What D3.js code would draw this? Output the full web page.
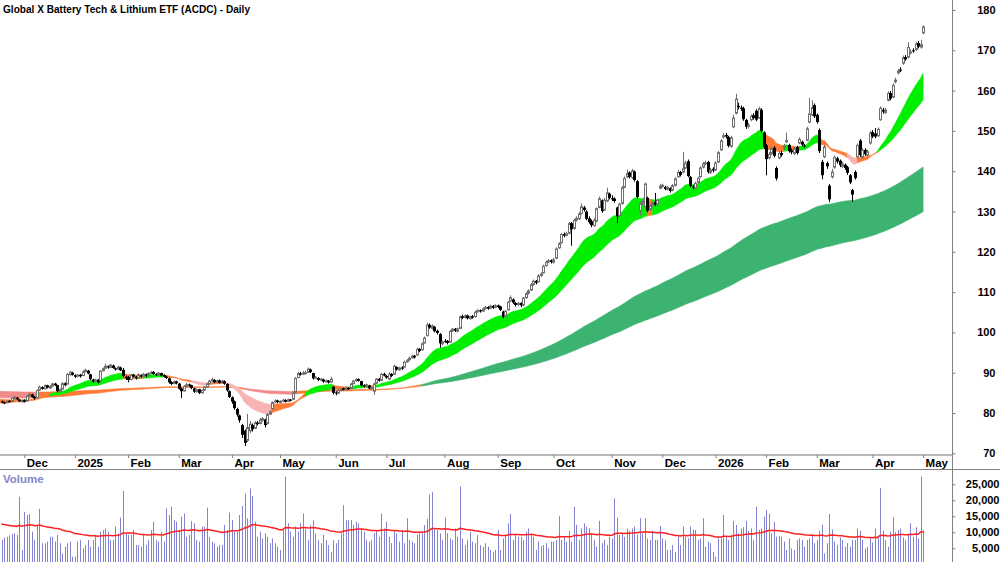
<!DOCTYPE html>
<html><head><meta charset="utf-8">
<script src="https://cdn.jsdelivr.net/npm/d3@7"></script>
<style>
html,body{margin:0;padding:0;background:#fff;}
svg{display:block;font-family:"Liberation Sans Narrow","Arial Narrow","Liberation Sans",Arial,sans-serif;}
</style></head><body>
<svg id="chart" width="1000" height="562"></svg>
<script>
const title = "Global X Battery Tech & Lithium ETF (ACDC) - Daily";
const open = [
82.9,82.6,82.6,83.0,82.9,83.5,83.8,83.3,82.8,83.2,
83.0,84.3,84.6,84.0,83.8,85.7,86.4,86.0,86.9,86.2,
86.7,87.3,86.9,85.3,85.9,87.4,87.2,89.5,90.0,89.4,
89.1,89.5,89.3,90.3,90.5,89.6,88.3,87.9,88.3,88.0,
90.5,91.1,91.6,91.3,91.8,91.1,90.9,91.3,90.7,89.0,
88.9,88.3,89.5,89.0,88.7,89.4,89.1,89.6,89.3,89.8,
90.2,89.6,89.5,89.9,89.4,89.0,88.6,87.7,87.3,87.8,
87.3,86.1,85.5,86.6,87.1,86.9,86.1,85.3,85.9,85.0,
85.7,86.4,87.3,87.9,88.2,87.6,88.1,87.5,87.9,87.2,
85.4,83.9,82.9,81.0,79.4,77.0,75.6,73.2,75.6,77.0,
76.2,77.6,77.4,78.2,78.4,77.4,79.7,81.0,82.8,83.1,
82.6,82.9,83.2,82.9,83.3,83.4,85.2,88.8,89.8,89.6,
89.9,90.1,90.8,89.9,88.6,88.7,88.1,88.3,87.8,88.0,
87.7,86.5,85.1,84.9,85.6,86.1,85.8,86.2,86.1,87.3,
88.0,88.4,87.9,86.9,86.6,86.8,86.0,85.4,87.4,88.5,
88.1,89.7,89.2,88.4,89.7,89.6,91.4,90.7,91.3,91.4,
92.7,93.2,93.7,94.2,94.4,95.9,95.7,97.4,99.2,101.9,
101.0,101.4,100.4,99.6,97.2,97.9,97.9,97.6,100.4,100.9,
100.3,101.0,104.0,103.7,104.2,103.4,104.0,103.9,105.1,105.5,
105.3,105.9,106.3,106.0,106.6,106.2,106.7,106.4,105.2,104.0,
105.6,107.8,108.2,107.3,106.9,107.3,106.8,108.6,109.7,110.5,
111.9,112.8,112.6,114.1,114.8,116.6,117.5,117.9,117.4,118.4,
121.0,122.3,124.4,124.1,124.6,127.1,125.8,127.9,128.2,129.5,
131.0,130.0,128.3,127.6,126.5,127.6,131.0,132.8,130.4,132.6,
134.4,133.3,133.2,131.0,129.0,132.0,136.0,138.6,139.7,138.4,
139.9,137.5,130.2,132.2,131.2,133.4,130.6,131.5,132.3,131.8,
135.8,136.2,136.1,135.5,135.8,135.3,136.5,138.6,139.8,139.8,
140.8,142.5,138.6,136.2,135.8,137.2,138.6,141.0,141.9,142.3,
139.7,140.6,140.3,142.3,145.3,148.5,149.0,148.5,146.2,151.0,
154.4,156.2,155.8,155.6,152.7,151.2,152.8,153.9,155.0,153.2,
155.2,149.6,146.4,143.3,144.4,145.8,140.8,143.3,144.5,145.8,
147.3,146.5,145.2,144.4,146.0,147.0,147.3,146.4,147.7,152.2,
154.0,156.4,154.0,150.2,142.3,143.6,142.0,136.4,138.6,141.0,
143.2,142.6,141.2,141.6,141.0,139.0,135.3,139.8,143.6,147.6,
143.5,145.3,144.0,147.0,149.7,149.4,148.8,152.8,155.2,154.6,
157.6,159.4,158.4,162.2,164.4,165.2,166.8,168.3,168.3,169.4,
170.0,170.2,171.8,170.8,174.3];
const high = [
83.1,82.8,83.1,83.2,83.8,84.3,84.0,83.5,83.3,83.4,
84.4,85.0,84.8,84.2,85.8,86.8,86.6,87.1,87.0,86.9,
87.5,87.5,87.0,86.1,87.6,87.6,89.9,90.5,90.2,89.6,
89.7,89.7,90.6,91.0,90.7,89.7,88.5,88.5,88.4,90.6,
91.3,92.2,91.8,92.2,92.0,91.3,91.7,91.5,91.2,89.3,
89.2,89.7,89.7,89.2,89.8,89.6,89.9,89.8,90.1,90.4,
90.4,89.9,90.2,90.0,89.6,89.2,88.8,87.9,88.1,88.0,
87.5,86.3,86.9,87.5,87.3,87.0,86.3,86.1,86.0,85.9,
86.7,87.5,88.3,88.8,88.4,88.3,88.3,88.2,88.1,87.4,
85.6,84.1,83.1,81.3,79.6,77.3,75.9,79.8,78.0,77.4,
78.0,78.0,78.8,79.0,78.6,80.0,80.7,82.9,83.4,83.3,
83.2,83.5,83.4,83.6,83.5,85.3,88.9,90.3,90.2,90.4,
90.5,91.3,91.0,90.0,89.2,88.9,88.7,88.5,88.3,88.2,
89.0,86.7,85.4,85.9,86.3,86.3,86.5,86.4,87.5,88.2,
88.7,88.6,88.0,87.1,87.3,87.0,86.6,87.5,88.7,88.7,
89.9,90.0,89.4,90.2,89.9,92.0,91.6,91.5,91.6,93.0,
93.4,94.0,94.5,94.4,96.2,96.1,97.5,99.0,102.4,102.2,
102.0,101.6,100.7,99.8,98.0,98.3,98.1,100.6,101.1,101.1,
101.2,104.2,104.4,104.5,104.4,104.2,104.3,105.4,105.8,105.7,
106.2,106.6,106.5,106.9,106.8,107.0,106.9,106.6,105.4,105.6,
107.8,109.2,108.4,107.5,107.6,107.5,108.8,110.0,110.7,112.2,
113.1,113.0,114.5,114.9,116.8,117.8,118.2,118.1,118.5,121.1,
122.4,124.7,124.8,125.0,127.4,127.4,128.2,128.8,129.9,132.0,
131.4,130.3,128.8,128.0,128.3,131.0,133.7,133.0,133.4,135.9,
134.7,134.0,133.5,131.2,132.2,136.3,138.7,140.4,140.0,140.6,
140.2,137.8,132.3,133.0,137.2,133.7,131.8,132.6,134.6,133.2,
136.8,136.9,136.4,136.4,136.0,136.8,138.5,140.3,140.1,144.8,
142.6,142.9,138.8,136.6,137.4,138.7,141.2,142.3,142.6,142.6,
140.8,141.0,142.5,145.0,148.0,149.4,149.5,148.8,148.8,154.0,
159.2,157.0,156.3,156.0,153.0,152.0,154.1,154.4,155.4,156.0,
155.6,149.9,146.8,144.8,146.1,146.2,141.2,144.9,145.0,146.8,
149.6,146.8,145.6,146.1,146.3,148.4,147.6,146.8,151.0,158.2,
157.6,156.8,154.3,150.6,142.8,146.5,142.4,136.8,140.6,143.9,
143.6,142.9,142.3,141.9,141.3,139.3,135.6,140.2,146.9,148.0,
145.7,145.7,145.3,150.0,150.2,150.7,150.9,156.1,155.7,155.7,
159.8,159.9,161.8,163.2,165.4,165.8,168.7,168.8,172.0,170.2,
170.5,172.1,172.3,172.6,176.2];
const low = [
82.4,82.2,82.4,82.6,82.8,83.4,83.2,82.7,82.6,82.6,
82.9,84.1,83.8,83.3,83.7,85.5,85.8,85.9,86.1,86.0,
86.5,86.7,85.1,85.2,85.8,86.6,87.1,89.3,89.3,88.7,
88.9,88.8,89.2,90.1,89.6,88.1,87.5,87.7,87.3,87.9,
90.3,90.9,91.0,91.1,91.0,90.5,90.7,90.4,88.9,88.2,
87.6,88.1,88.8,88.3,88.5,88.7,88.9,88.9,89.1,89.6,
89.5,89.2,89.3,89.1,88.8,88.4,87.3,86.9,87.1,87.1,
85.8,83.7,85.3,86.4,86.5,85.9,85.0,85.1,84.7,84.8,
85.5,86.3,87.1,87.7,87.4,87.4,87.3,87.3,87.0,85.3,
83.7,82.3,80.8,79.1,77.6,73.8,71.8,72.8,75.0,75.4,
76.0,76.9,77.2,77.9,76.4,77.2,79.5,80.8,82.5,82.4,
82.4,82.7,82.6,82.7,82.9,83.3,85.0,88.6,89.3,89.4,
89.6,89.9,89.9,88.3,88.4,87.9,87.9,87.5,87.6,87.3,
87.5,84.6,84.4,84.7,85.4,85.6,85.6,85.7,85.9,87.1,
87.8,87.8,86.5,86.3,86.4,85.9,85.7,84.5,87.2,87.8,
88.0,89.1,88.5,88.2,88.9,89.5,90.5,90.5,90.7,91.3,
92.5,93.0,93.5,93.5,94.3,95.1,95.5,97.2,99.0,100.9,
100.7,100.0,99.5,96.2,96.8,97.4,97.0,97.4,100.1,100.1,
100.0,100.8,103.3,103.4,103.2,103.2,103.4,103.7,104.9,104.9,
105.1,105.7,105.6,105.8,105.8,106.0,106.0,105.3,103.4,103.8,
105.4,107.6,107.1,106.4,106.6,106.3,106.6,108.4,109.4,110.3,
111.6,111.9,112.4,113.8,114.6,116.3,117.2,117.1,117.1,118.2,
120.7,122.0,123.6,123.8,124.3,121.5,125.5,127.5,127.9,129.2,
130.0,127.8,127.0,126.1,126.2,127.3,130.8,129.7,130.2,132.3,
133.0,132.6,132.2,127.1,128.7,131.7,135.8,138.3,138.2,138.1,
137.4,133.2,129.0,131.6,131.0,129.8,130.2,131.1,131.3,131.5,
135.5,135.9,135.3,135.2,134.7,135.0,136.2,138.4,138.7,139.5,
140.5,138.5,136.0,135.5,135.4,136.9,138.4,140.7,141.5,139.4,
139.3,139.7,140.0,142.0,145.0,148.1,148.1,145.9,145.8,150.7,
154.1,155.3,155.0,152.5,150.5,150.6,152.4,152.8,152.4,153.0,
149.6,145.5,139.0,142.9,144.0,143.4,137.7,143.0,143.6,145.4,
147.0,144.6,144.2,144.0,144.1,146.7,146.2,145.8,147.4,151.9,
153.7,153.2,151.8,144.5,138.0,143.2,140.6,132.3,138.2,140.6,
141.9,141.0,140.8,140.3,139.1,136.8,132.4,137.9,143.2,143.6,
143.1,143.8,143.6,146.6,148.2,148.2,148.5,152.5,154.3,154.2,
157.3,157.6,158.1,161.8,164.0,164.6,166.4,167.4,168.0,169.0,
169.4,169.9,170.5,170.4,174.0];
const close = [
82.7,82.5,82.9,82.8,83.6,83.9,83.4,82.9,83.1,82.8,
84.2,84.6,84.0,83.6,85.6,86.4,86.0,86.8,86.3,86.6,
87.2,86.9,85.4,85.8,87.3,86.9,89.6,90.1,89.5,89.0,
89.4,89.1,90.2,90.6,89.8,88.4,87.8,88.2,87.6,90.4,
91.0,91.6,91.3,91.9,91.2,90.8,91.4,90.6,89.2,88.6,
88.2,89.4,89.0,88.6,89.5,89.0,89.6,89.2,89.8,90.1,
89.7,89.5,89.9,89.3,89.0,88.7,87.6,87.2,87.8,87.4,
86.0,85.4,86.6,87.0,86.8,86.2,85.3,85.8,85.0,85.6,
86.4,87.2,87.9,88.3,87.6,88.0,87.5,87.9,87.3,85.6,
84.0,82.8,81.2,79.6,78.2,74.6,72.6,76.4,77.2,76.0,
77.6,77.3,78.3,78.6,77.0,79.6,80.3,82.6,83.0,82.7,
82.9,83.2,82.8,83.3,83.1,85.0,88.6,89.8,89.7,89.9,
90.0,90.9,90.2,88.6,88.9,88.2,88.4,87.8,88.0,87.6,
88.4,85.0,84.8,85.6,86.0,85.8,86.2,86.0,87.2,87.9,
88.3,88.0,86.8,86.6,87.0,86.1,86.3,87.2,88.4,88.0,
89.6,89.3,88.8,89.6,89.2,91.6,90.8,91.2,91.0,92.6,
93.0,93.6,94.1,93.8,95.8,95.4,97.2,98.6,101.8,101.2,
101.6,100.3,99.9,97.3,97.6,97.8,97.4,100.3,100.8,100.4,
100.9,103.9,103.6,104.1,103.5,103.9,103.7,105.0,105.4,105.2,
105.8,106.2,105.9,106.5,106.1,106.6,106.3,105.6,103.8,105.2,
107.5,108.6,107.4,106.8,107.2,106.7,108.5,109.6,110.3,111.8,
112.7,112.3,114.0,114.5,116.4,117.4,117.8,117.5,118.0,120.7,
122.0,124.3,124.0,124.5,127.0,125.6,127.8,128.3,129.4,131.2,
130.4,128.2,127.4,126.6,127.8,130.7,133.2,130.1,132.8,134.6,
133.4,133.0,132.6,128.8,131.8,135.9,138.2,139.4,138.6,140.1,
137.8,133.6,131.9,132.5,136.8,130.2,131.4,132.2,131.7,132.8,
136.3,136.5,135.6,136.0,135.1,136.4,138.1,139.7,139.1,140.6,
142.0,138.8,136.4,136.0,137.0,138.2,140.8,141.8,142.1,139.8,
140.3,140.2,142.0,144.6,147.5,148.8,148.6,146.3,148.3,153.2,
157.9,155.9,155.5,152.9,151.0,151.4,153.6,153.2,152.8,155.5,
150.0,146.0,143.0,144.2,145.6,143.8,138.2,144.4,144.0,146.2,
147.6,145.0,144.7,145.6,144.5,147.9,146.6,146.2,150.5,154.2,
155.8,153.6,152.2,145.0,139.0,146.0,141.2,133.0,139.8,143.4,
142.4,141.5,141.8,140.8,139.6,137.2,134.2,138.3,146.4,144.0,
145.2,144.2,144.8,149.4,148.6,148.6,150.4,155.6,154.8,155.2,
159.3,158.0,161.3,162.6,164.8,165.0,168.2,167.8,170.7,169.6,
169.9,171.6,170.9,171.4,175.8];
const volume = [
7600,8300,8600,9000,9500,9700,9200,21100,4500,16400,
15400,15700,10200,7600,12300,17300,6600,6600,7100,8600,
8600,7100,9200,6600,3400,5500,6600,7100,2400,2400,
7100,7600,5000,6000,7600,5500,7600,9200,5500,10200,
10700,11200,10200,7600,7600,11800,9700,14600,22900,9700,
9200,9200,10700,6000,6000,5500,9200,6000,7600,10700,
13300,7600,7100,10200,7100,17500,15400,18000,13800,13300,
10900,14900,15900,8600,9200,13500,12800,7600,7100,11800,
11800,17700,8600,7100,6600,5500,6000,6000,12300,10700,
16200,13800,10200,10200,15400,18200,22100,14400,23700,21300,
13300,8600,10200,8100,9700,8600,6600,8100,6600,5500,
4500,10700,27400,12800,10200,8600,11800,10200,12800,15900,
11200,7600,12300,13800,9700,7600,6600,9200,7600,6000,
3900,7600,6600,7600,9700,18500,13800,13800,13800,12300,
13300,12800,11200,10200,7600,7100,7600,9700,10700,8600,
15900,11200,13300,8600,6600,10700,9700,7100,10700,6600,
14400,7600,7100,6600,9200,9700,9700,12300,14200,21800,
22600,11200,10700,9700,7600,14600,9700,8100,7600,11200,
8600,24300,8100,6000,7600,10200,7100,6600,9200,6000,
5500,6600,5500,4500,3900,4500,10700,4500,8100,9200,
12800,15700,7600,9200,8600,8600,7600,10200,11200,9700,
8600,4500,7100,5700,6000,6600,5000,7100,7100,7600,
15100,7600,8600,7100,10500,7100,18000,12300,7600,11200,
12800,11800,11200,9700,7600,5500,13600,6600,7600,6000,
8600,8100,20600,14600,9200,9700,8600,11200,10500,11200,
11800,9200,14400,9700,14400,8100,7600,10500,7600,7600,
12000,8100,7600,4500,4500,6000,3900,8600,6000,11800,
8600,8100,11800,10900,10700,7600,8100,14400,5500,7100,
6600,3900,2400,8100,8100,15400,8600,7600,9200,13500,
12300,9700,11200,11600,13500,10400,11200,7600,18000,10700,
11200,14900,17000,15900,9700,13300,8600,8800,8600,7100,
4500,8100,5000,4500,7600,8100,7600,5500,7600,8100,
9200,6600,7600,10500,12300,3400,6600,15700,10900,7100,
6000,8400,7600,5500,6600,5500,7600,7600,11200,10500,
7600,5000,5500,8400,6800,11200,8100,23900,10500,7600,
5500,10200,14700,10100,10700,11200,8400,7600,9500,12800,
8600,11600,8100,27400,10700];

const monthTicks  = [9,29,50,70,91,110,132,152,175,196,218,241,261,282,302,322,344,364];
const monthLabels = ["Dec","2025","Feb","Mar","Apr","May","Jun","Jul","Aug","Sep","Oct","Nov","Dec","2026","Feb","Mar","Apr","May"];
const priceTicks  = [70,80,90,100,110,120,130,140,150,160,170,180];
const volumeTicks = [5000,10000,15000,20000,25000];
const shortPeriods = [20, 25, 30, 35, 40];
const shortSeeds   = [82.5, 82.45, 82.8, 83.1, 83.4];
const longPeriods  = [150, 175, 200, 225, 250];
const longSeeds    = [83.8, 84.2, 84.6, 85.0, 85.4];
const volumeMAPeriod = 50;
const volumeMASeed   = 12800;

const N = close.length;
const svg = d3.select("#chart");
const W = 1000, H = 562, axisX = 952, priceBottom = 455, volTop = 469.5;

const x  = d3.scaleLinear().domain([0, 364]).range([1.5, 923.1]);
const y  = d3.scaleLinear().domain([70, 180]).range([453.3, 10]);
const yv = d3.scaleLinear().domain([0, 25000]).range([564.3, 484.3]);

function ema(vals, period, seed){
  const a = 2/(period+1); let e = seed; const out = [seed];
  for (const v of vals){ e = e + a*(v - e); out.push(e); }
  return out; // index 0 = seed (day -1)
}

const defs = svg.append("defs");
defs.append("clipPath").attr("id","priceClip").append("rect").attr("x",0).attr("y",0).attr("width",axisX).attr("height",priceBottom);
defs.append("clipPath").attr("id","volClip").append("rect").attr("x",0).attr("y",volTop).attr("width",axisX).attr("height",H-volTop);

function drawBand(periods, seeds, colors){
  const lines = periods.map((p,k)=>ema(close, p, seeds[k]));
  const mean = lines[0].map((_,k)=>d3.mean(lines, l=>l[k]));
  const pts = lines[0].map((_,k)=>{
    const vals = lines.map(l=>l[k]);
    let bull = true, bear = true;
    for (let j=0;j<vals.length-1;j++){ if (vals[j] <= vals[j+1]) bull = false; if (vals[j] >= vals[j+1]) bear = false; }
    const kk = Math.max(k,1);
    const rising = mean[kk] > mean[kk-1];
    const st = (bull && rising) ? "up" : ((bear && !rising) ? "down" : "mid");
    return {i:k-1, lo:d3.min(vals), hi:d3.max(vals), st};
  });
  const area = d3.area().x(d=>x(d.i)).y0(d=>y(d.lo)).y1(d=>y(d.hi));
  const g = svg.append("g").attr("clip-path","url(#priceClip)");
  let start = 0;
  for (let k=1;k<=pts.length;k++){
    if (k===pts.length || pts[k].st!==pts[start].st){
      const seg = pts.slice(start, Math.min(k+1, pts.length));
      g.append("path").attr("d", area(seg)).attr("fill", colors[pts[start].st])
        .attr("stroke", colors[pts[start].st]).attr("stroke-width",0.6);
      start = k;
    }
  }
}

drawBand(longPeriods, longSeeds, {up:"#3cb371", mid:"#ff7b35", down:"#f28a8a"});
drawBand(shortPeriods, shortSeeds, {up:"#00ee00", mid:"#ff7b35", down:"#f8b4b4"});

// candles
const cg = svg.append("g").attr("clip-path","url(#priceClip)");
for (let i=0;i<N;i++){
  const cx = Math.round(x(i)) + 0.5;
  const up = close[i] >= open[i];
  const col = up ? "#707070" : "#000";
  cg.append("line").attr("x1",cx).attr("x2",cx).attr("y1",y(high[i])).attr("y2",y(low[i]))
    .attr("stroke",col).attr("stroke-width",1);
  const top = y(Math.max(open[i],close[i])), bot = y(Math.min(open[i],close[i]));
  const h = Math.max(bot-top, 1);
  if (up){
    cg.append("rect").attr("x",cx-1).attr("y",top).attr("width",2).attr("height",h)
      .attr("fill","#fff").attr("stroke","#707070").attr("stroke-width",1);
  } else {
    cg.append("rect").attr("x",cx-1.5).attr("y",top).attr("width",3).attr("height",h).attr("fill","#000");
  }
}

// volume
const vg = svg.append("g").attr("clip-path","url(#volClip)");
vg.selectAll("rect").data(volume).join("rect")
  .attr("x",(d,i)=>Math.round(x(i))).attr("y",d=>yv(d)).attr("width",1).attr("height",d=>yv(0)-yv(d))
  .attr("fill","#8383d6");
const vma = ema(volume, volumeMAPeriod, volumeMASeed).slice(1);
vg.append("path").datum(vma).attr("fill","none").attr("stroke","#ff2020").attr("stroke-width",1.5)
  .attr("d", d3.line().x((d,i)=>x(i)).y(d=>yv(d)));

// frame lines
svg.append("line").attr("x1",0).attr("x2",axisX).attr("y1",priceBottom).attr("y2",priceBottom).attr("stroke","#a0a0a0").attr("stroke-width",1.5);
svg.append("line").attr("x1",0).attr("x2",W).attr("y1",volTop).attr("y2",volTop).attr("stroke","#808080").attr("stroke-width",1);
svg.append("line").attr("x1",axisX+0.5).attr("x2",axisX+0.5).attr("y1",0).attr("y2",H).attr("stroke","#808080").attr("stroke-width",1);

const pa = svg.append("g").attr("transform",`translate(${axisX+0.5},0)`)
  .call(d3.axisRight(y).tickValues(priceTicks).tickSize(3).tickFormat(d3.format("d")));
pa.select(".domain").remove();
pa.selectAll("line").attr("stroke","#808080");
pa.selectAll("text").attr("x",43).attr("text-anchor","end").attr("font-size","11px").attr("font-weight","bold").attr("fill","#000").attr("font-family","Liberation Sans, Arial, sans-serif");

const va = svg.append("g").attr("transform",`translate(${axisX+0.5},0)`)
  .call(d3.axisRight(yv).tickValues(volumeTicks).tickSize(3).tickFormat(d3.format(",")));
va.select(".domain").remove();
va.selectAll("line").attr("stroke","#808080");
va.selectAll("text").attr("x",47).attr("text-anchor","end").attr("font-size","11px").attr("font-weight","bold").attr("fill","#000").attr("font-family","Liberation Sans, Arial, sans-serif");

const xa = svg.append("g").attr("transform",`translate(0,${priceBottom})`)
  .call(d3.axisBottom(x).tickValues(monthTicks).tickSize(3).tickFormat((d,k)=>monthLabels[k]));
xa.select(".domain").remove();
xa.selectAll("line").attr("stroke","#808080");
xa.selectAll("text").attr("x",2).attr("y",4).attr("dy","0.71em").attr("text-anchor","start")
  .attr("font-size","11.5px").attr("font-weight","bold").attr("fill","#000");

svg.append("text").attr("x",3).attr("y",13).attr("font-size","11.5px").attr("font-weight","bold")
  .attr("textLength",247).attr("lengthAdjust","spacingAndGlyphs").text(title);
svg.append("text").attr("x",3).attr("y",483).attr("font-size","11.5px").attr("font-weight","bold")
  .attr("fill","#8585c8").text("Volume");
</script>
</body></html>
